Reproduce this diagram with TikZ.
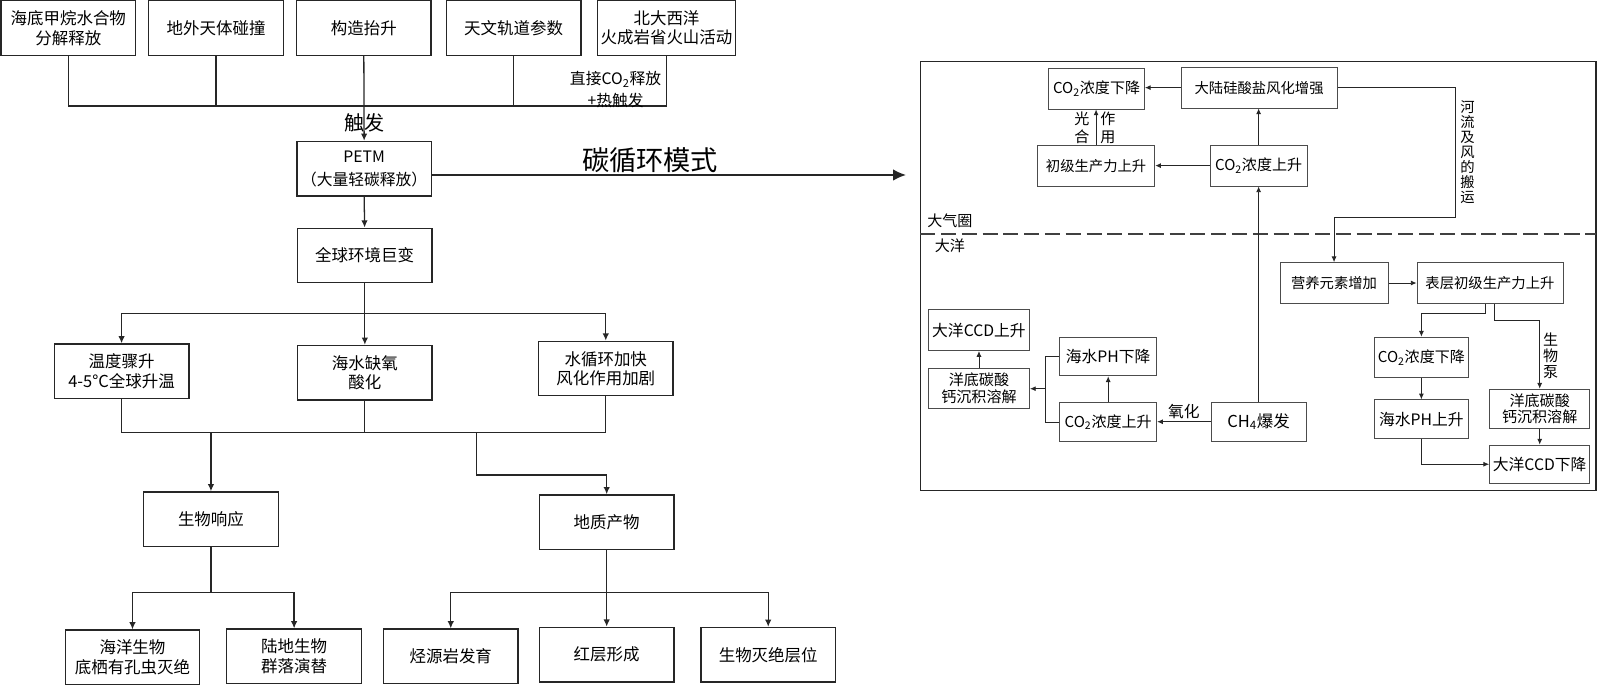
\documentclass[tikz,border=0pt]{standalone}
\usepackage{fontspec}
\setmainfont{Noto Sans CJK SC}
\usetikzlibrary{arrows.meta}
\newcommand\fz[2]{\fontsize{#1}{#2}\selectfont}

\begin{document}
\begin{tikzpicture}[
  x=0.025cm, y=-0.025cm,
  box/.style={draw=black!85, line width=0.9pt, align=center, inner sep=1pt,
    minimum width=3.3cm, minimum height=1.34cm, font=\fz{11.5}{13.5}},
  rbox/.style={draw=black!70, line width=0.6pt, align=center, inner sep=1pt,
    minimum height=1cm, font=\fz{10.5}{12}},
  lbl/.style={inner sep=0pt, align=center},
  link/.style={draw=black!85, line width=0.9pt},
  arr/.style={link, -{Latex[length=5pt,width=4.5pt]}},
  bigarr/.style={link, line width=1.1pt, -{Latex[length=9pt,width=8pt]}},
  rlink/.style={draw=black!85, line width=0.6pt},
  rarr/.style={rlink, -{Latex[length=4pt,width=3.5pt]}},
  seam/.style={draw=black!75, line width=1pt, dash pattern=on 10.5pt off 4pt}
]
\useasboundingbox (0,0) rectangle (1568,673);

% triggers
\node[box] (hyd) at (67,27.5) {海底甲烷水合物\\分解释放};
\node[box] (imp) at (212,27.5) {地外天体碰撞};
\node[box] (upl) at (357,27.5) {构造抬升};
\node[box] (orb) at (504,27.5) {天文轨道参数};
\node[box, minimum width=3.4cm] (lip) at (654,27.5) {北大西洋\\火成岩省火山活动};

\coordinate (bus1) at (0,104);
\draw[link] (hyd.south) -- (hyd.south |- bus1) -- (lip.south |- bus1) -- (lip.south);
\draw[link] (imp.south) -- (imp.south |- bus1);
\draw[link] (orb.south) -- (orb.south |- bus1);
\node[lbl, font=\fz{11}{15}] (heat) at (604,88) {直接CO\textsubscript{2}释放\\+热触发};
\node[lbl, font=\fz{14}{14}] (trg) at (358,121) {触发};

% PETM
\node[box, font=\fz{11}{16}] (petm) at (357.3,165.5) {PETM\\（大量轻碳释放）};
\draw[arr] (upl.south) -- (petm.north);

\coordinate (cyc) at (889,171.7);
\draw[bigarr] (petm.east |- cyc) -- (cyc)
  node[pos=0.46, above=1pt, inner sep=0pt, font=\fz{19}{19}] {碳循环模式};

\node[box] (glob) at (357.8,250.7) {全球环境巨变};
\draw[arr] (petm.south) -- (glob.north);

% responses
\coordinate (bus2) at (0,307.5);
\node[box] (warm) at (119.3,364.3) {温度骤升\\4-5°C全球升温};
\node[box] (anox) at (358,365.7) {海水缺氧\\酸化};
\node[box] (hyc) at (594.4,361.6) {水循环加快\\风化作用加剧};
\draw[link] (glob.south) -- (glob.south |- bus2);
\draw[link] (warm.north |- bus2) -- (hyc.north |- bus2);
\foreach \n in {warm,anox,hyc} \draw[arr] (\n.north |- bus2) -- (\n.north);

\coordinate (bus3) at (0,424.2);
\draw[link] (warm.south) -- (warm.south |- bus3) -- (hyc.south |- bus3) -- (hyc.south);
\draw[link] (anox.south) -- (anox.south |- bus3);

\node[box] (bio) at (207,509.5) {生物响应};
\node[box] (geo) at (595.3,512.4) {地质产物};
\draw[arr] (bio.north |- bus3) -- (bio.north);
\coordinate (bend) at (467.8,466.2);
\draw[arr] (bend |- bus3) -- (bend) -| (geo.north);

% records
\coordinate (bus4) at (0,581.3);
\node[box] (mar) at (130,645) {海洋生物\\底栖有孔虫灭绝};
\node[box] (ter) at (288.6,644) {陆地生物\\群落演替};
\draw[link] (bio.south) -- (bio.south |- bus4);
\draw[link] (mar.north |- bus4) -- (ter.north |- bus4);
\foreach \n in {mar,ter} \draw[arr] (\n.north |- bus4) -- (\n.north);

\node[box] (hcs) at (442.3,644) {烃源岩发育};
\node[box] (red) at (595.3,642.3) {红层形成};
\node[box] (ext) at (753.8,642.5) {生物灭绝层位};
\draw[link] (geo.south) -- (geo.south |- bus4);
\draw[link] (hcs.north |- bus4) -- (ext.north |- bus4);
\foreach \n in {hcs,red,ext} \draw[arr] (\n.north |- bus4) -- (\n.north);

% carbon cycle panel
\coordinate (pnw) at (903,60.5);
\coordinate (pse) at (1566,481);
\coordinate (sea) at (0,229.6);
\draw[draw=black!85, line width=0.8pt] (pnw) rectangle (pse);
\draw[seam] (pnw |- sea) -- (pse |- sea);
\node[lbl, font=\fz{10.5}{12}] (atm) at (932,217) {大气圈};
\node[lbl, font=\fz{10.5}{12}] (ocn) at (932,241) {大洋};

\node[rbox, minimum width=2.35cm] (aco2dn) at (1076,87) {CO\textsubscript{2}浓度下降};
\node[rbox, minimum width=3.83cm, font=\fz{10}{12}] (silw) at (1235.5,86) {大陆硅酸盐风化增强};
\node[rbox, minimum width=2.88cm, font=\fz{10}{12}] (npp) at (1075.5,162.5) {初级生产力上升};
\node[rbox, minimum width=2.38cm] (aco2up) at (1235,162.5) {CO\textsubscript{2}浓度上升};
\node[rbox, minimum width=2.65cm, font=\fz{10}{12}] (nutr) at (1309,277.7) {营养元素增加};
\node[rbox, minimum width=3.58cm, font=\fz{10}{12}] (spp) at (1462,277.7) {表层初级生产力上升};

\node[rbox, minimum width=2.48cm, font=\fz{11}{13}] (ccdup) at (960.6,324) {大洋CCD上升};
\node[rbox, minimum width=2.48cm, minimum height=0.97cm, font=\fz{10.5}{11.5}] (dissl) at (960.6,381) {洋底碳酸\\钙沉积溶解};
\node[rbox, minimum width=2.38cm, minimum height=0.95cm, font=\fz{11}{13}] (phdn) at (1087.4,349.8) {海水PH下降};
\node[rbox, minimum width=2.38cm, minimum height=0.97cm] (oco2up) at (1087.4,414) {CO\textsubscript{2}浓度上升};
\node[rbox, minimum width=2.33cm, minimum height=0.95cm, font=\fz{11.5}{13}] (ch4) at (1235,413.8) {CH\textsubscript{4}爆发};
\node[rbox, minimum width=2.3cm] (oco2dn) at (1394.7,350.8) {CO\textsubscript{2}浓度下降};
\node[rbox, minimum width=2.3cm, minimum height=0.95cm, font=\fz{11}{13}] (phup) at (1394.7,411.3) {海水PH上升};
\node[rbox, minimum width=2.46cm, minimum height=0.96cm, font=\fz{10.5}{11.5}] (dissr) at (1510.8,401) {洋底碳酸\\钙沉积溶解};
\node[rbox, minimum width=2.46cm, minimum height=0.94cm, font=\fz{11}{13}] (ccddn) at (1510.8,455.5) {大洋CCD下降};

% atmosphere links
\draw[rarr] (silw.west) -- (silw.west -| aco2dn.east);
\draw[rarr] (aco2up.north) -- (aco2up.north |- silw.south);
\draw[rarr] (aco2up.west) -- (npp.east);
\draw[rarr] (npp.north) -- (npp.north |- aco2dn.south);
\node[lbl, font=\fz{10.5}{12.5}] (psa) at (1061.5,125.3) {光\\合};
\node[lbl, font=\fz{10.5}{12.5}] (psb) at (1087,125.3) {作\\用};
\draw[rarr] (ch4.north) -- (ch4.north |- aco2up.south);

% ocean links
\draw[rarr] (ch4.west) -- (ch4.west -| oco2up.east)
  node[midway, above=2pt, lbl, font=\fz{11}{12}] {氧化};
\draw[rarr] (oco2up.north) -- (phdn.south);
\coordinate (fork) at (1025.6,381.4);
\draw[rlink] (phdn.west) -| (fork) |- (oco2up.west);
\draw[rarr] (fork) -- (fork -| dissl.east);
\draw[rarr] (dissl.north) -- (ccdup.south);

\coordinate (rv) at (1428,213);
\draw[rarr] (silw.east) -| (rv) -| (nutr.north);
\node[lbl, font=\fz{10}{10.5}] (rvl) at (1440,149) {河\\流\\及\\风\\的\\搬\\运};
\draw[rarr] (nutr.east) -- (spp.west);

\coordinate (sp1) at (1458,307.5);
\coordinate (sp2) at (1466,314);
\draw[rarr] (sp1 |- spp.south) -- (sp1) -| (oco2dn.north);
\draw[rarr] (sp2 |- spp.south) -- (sp2) -| (dissr.north);
\node[lbl, font=\fz{10.5}{11}] (pump) at (1521.5,349) {生\\物\\泵};
\draw[rarr] (oco2dn.south) -- (phup.north);
\draw[rarr] (phup.south) |- (ccddn.west);
\draw[rarr] (dissr.south) -- (ccddn.north);
\end{tikzpicture}
\end{document}
